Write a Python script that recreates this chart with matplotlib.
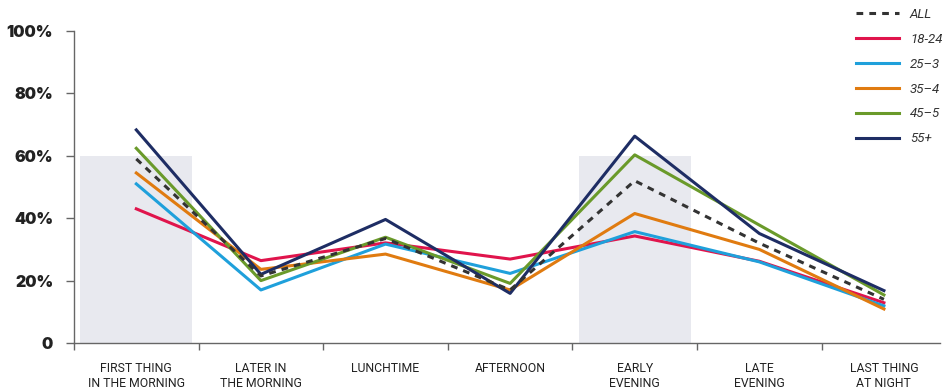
import matplotlib
matplotlib.use("Agg")
import matplotlib.pyplot as plt

categories = ["FIRST THING\nIN THE MORNING", "LATER IN\nTHE MORNING", "LUNCHTIME",
              "AFTERNOON", "EARLY\nEVENING", "LATE\nEVENING", "LAST THING\nAT NIGHT"]

all_ages = [59, 21.5, 33.5, 17, 52, 32, 14]
age_18_24 = [43, 26.4, 32.1, 26.9, 34.3, 26.2, 12.9]
age_25_3 = [51, 17, 31.7, 22.3, 35.7, 26, 11.9]
age_35_4 = [54.5, 23.6, 28.5, 17, 41.5, 30, 10.9]
age_45_5 = [62.4, 20, 33.9, 19.1, 60.3, 37.8, 15.4]
age_55 = [68.3, 22, 39.6, 15.9, 66.3, 35.1, 16.8]

shaded = [0, 4]
shade_height = 60

fig = plt.figure(figsize=(9.42, 3.92), dpi=100)
ax = fig.add_axes([74/942, 49/392, 866/942, 312/392])

x = list(range(len(categories)))

for s in shaded:
    ax.bar(s, shade_height, width=0.9, color='#e8e9ef', zorder=0)

ax.plot(x, all_ages, color='#333333', linewidth=2.2, linestyle=(0, (2.2, 2.0)),
        label="ALL", zorder=5)
ax.plot(x, age_18_24, color='#e0144c', linewidth=2.2, label="18-24", zorder=3)
ax.plot(x, age_25_3, color='#1fa0db', linewidth=2.2, label="25\u20133", zorder=3)
ax.plot(x, age_35_4, color='#e07b10', linewidth=2.2, label="35\u20134", zorder=3)
ax.plot(x, age_45_5, color='#6a9a2a', linewidth=2.2, label="45\u20135", zorder=4)
ax.plot(x, age_55, color='#1e2d64', linewidth=2.2, label="55+", zorder=4)

ax.set_xlim(-0.5, 6.45)
ax.set_ylim(0, 100)

yticks = [0, 20, 40, 60, 80, 100]
ax.set_yticks(yticks)
ax.set_yticklabels(["0" if v == 0 else "%d%%" % v for v in yticks],
                   fontsize=11.5, fontweight=900, family='Inter', color='#222222')
ax.set_xticks([i - 0.5 for i in x], minor=False)
ax.set_xticklabels([])
ax.set_xticks(x, minor=True)
ax.set_xticklabels(categories, minor=True, fontsize=8.8, color='#222222',
                   family='Roboto', linespacing=1.15)
ax.tick_params(axis='x', which='minor', length=0, pad=14)
ax.tick_params(axis='x', which='major', length=5, color='#666666', width=1)
ax.tick_params(axis='y', length=6, color='#666666', width=1, pad=9)

for side in ['top', 'right']:
    ax.spines[side].set_visible(False)
for side in ['left', 'bottom']:
    ax.spines[side].set_color('#666666')
    ax.spines[side].set_linewidth(1)

leg = fig.legend(loc='upper left', bbox_to_anchor=(848/942, 1.0), frameon=False,
                 handlelength=3.3, labelspacing=0.9, handletextpad=0.8,
                 borderaxespad=0.2, labelcolor='#333333',
                 prop={'style': 'italic', 'family': 'Roboto', 'size': 9.5})

fig.savefig("out.png", dpi=100)
